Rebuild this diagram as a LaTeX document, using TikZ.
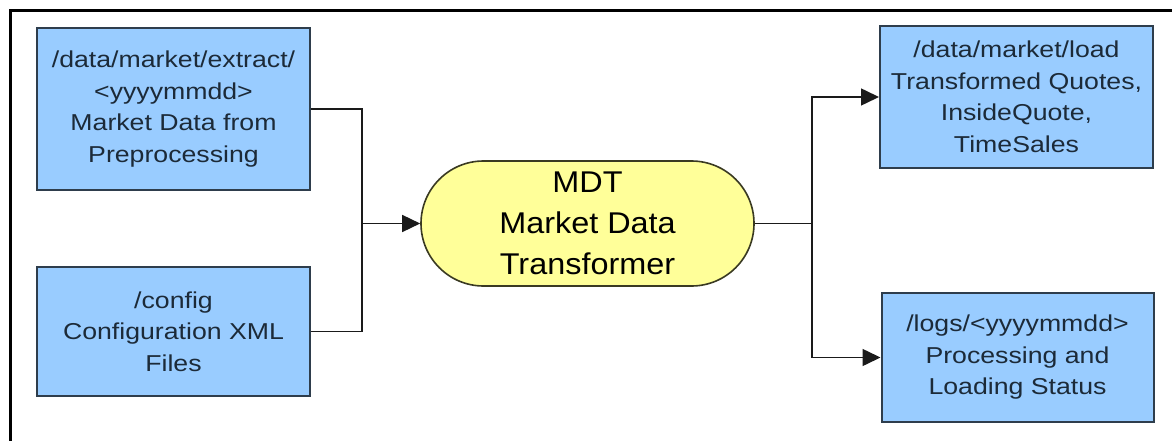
\documentclass[tikz,border=0pt]{standalone}
\usepackage{fontspec}
\usetikzlibrary{arrows.meta,shapes.misc}
\newfontfamily\boxfont[FakeStretch=1.16]{Liberation Sans}
\newfontfamily\ovalfont[FakeStretch=1.08]{Liberation Sans}
\definecolor{boxfill}{HTML}{99CCFF}
\definecolor{boxline}{HTML}{2E3D4C}
\definecolor{boxtext}{HTML}{1C2A38}
\definecolor{ovalfill}{HTML}{FFFF99}
\definecolor{ovalline}{HTML}{3A3A22}
\definecolor{wire}{HTML}{1A1A1A}
\begin{document}
\begin{tikzpicture}[x=1pt,y=-1pt,
  store/.style={draw=boxline,line width=2pt,fill=boxfill,text=boxtext,
    align=center,inner sep=0pt,
    font=\boxfont\fontsize{23}{31.5}\selectfont},
  process/.style={rounded rectangle,draw=ovalline,line width=1.6pt,
    fill=ovalfill,text=black,align=center,inner sep=0pt,
    minimum width=333pt,minimum height=125pt,
    font=\ovalfont\fontsize{30}{41}\selectfont},
  wireline/.style={draw=wire,line width=1.5pt},
  flow/.style={wireline,-{Triangle[length=18pt,width=17pt]}}]
\useasboundingbox (0,0) rectangle (1172,441);
\fill[white] (0,0) rectangle (1172,441);
% frame edges along the top and left
\draw[line width=3.5pt] (10.5,441) -- (10.5,10.5) -- (1172,10.5);

\node[store,minimum width=273pt,minimum height=162pt] (extract) at (173.5,109)
  {/data/market/extract/\\\textless yyyymmdd\textgreater\\Market Data from\\Preprocessing};
\node[store,minimum width=273pt,minimum height=129pt] (config) at (173.5,331.5)
  {/config\\Configuration XML\\Files};
\node[process] (mdt) at (587.5,223.5) {MDT\\Market Data\\Transformer};
\node[store,minimum width=273pt,minimum height=142pt] (load) at (1016.5,97)
  {/data/market/load\\Transformed Quotes,\\InsideQuote,\\TimeSales};
\node[store,minimum width=272pt,minimum height=129pt] (logs) at (1017.5,357.5)
  {/logs/\textless yyyymmdd\textgreater\\Processing and\\Loading Status};

\coordinate (join) at (362,223.5);
\coordinate (split) at (812,223.5);

\draw[wireline] (extract.east) -| (join) |- (config.east);
\draw[flow] (join) -- (mdt.west);
\draw[wireline] (mdt.east) -- (split);
\draw[flow] (split) |- (load.west);
\draw[flow] (split) |- (logs.west);
\end{tikzpicture}
\end{document}
